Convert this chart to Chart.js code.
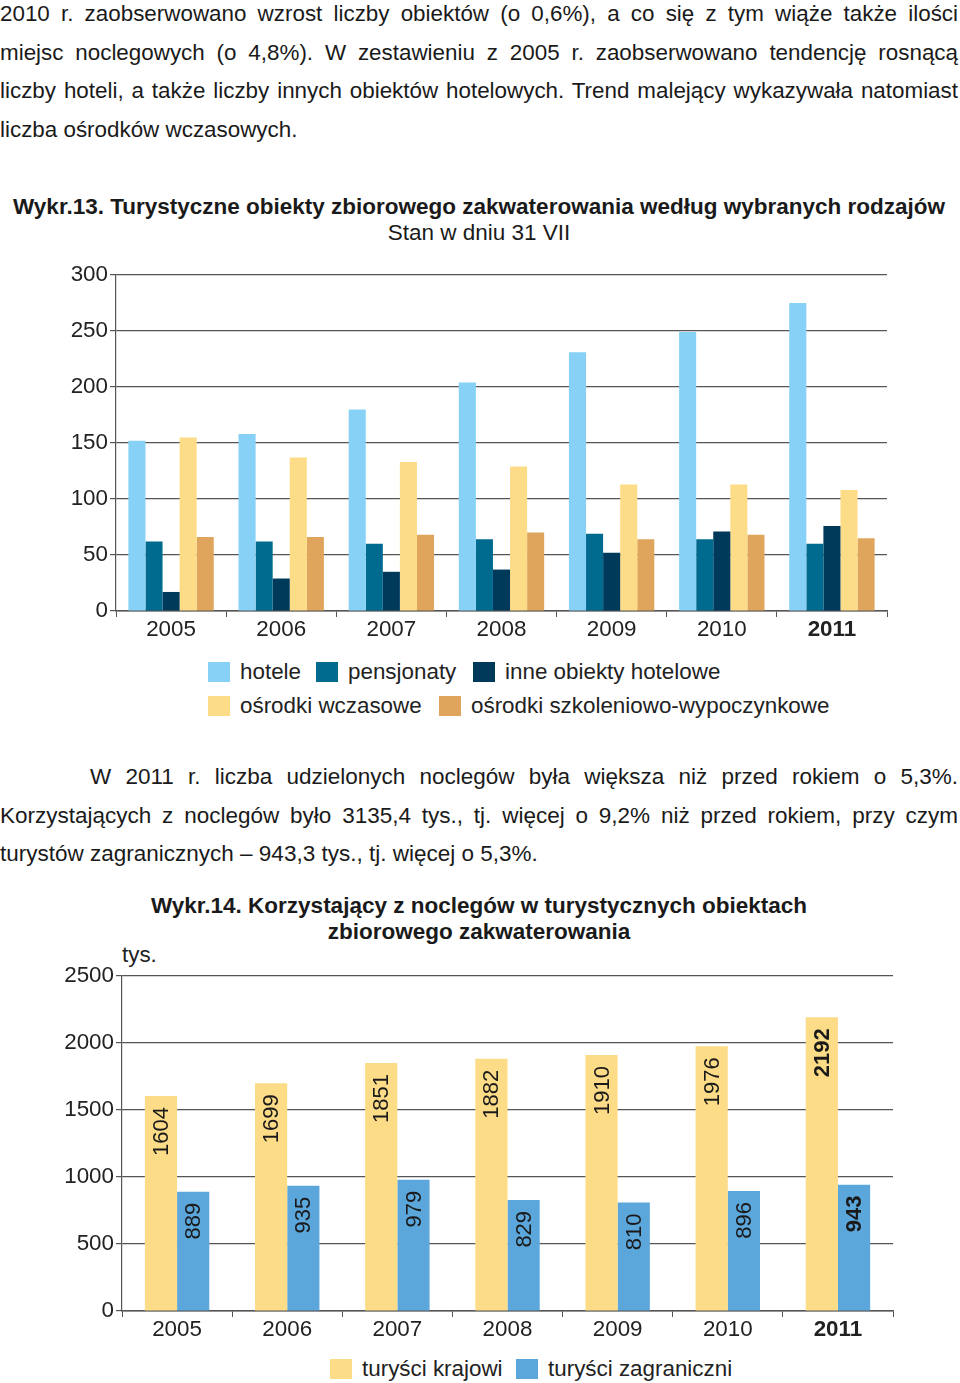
<!DOCTYPE html>
<html lang="pl">
<head>
<meta charset="utf-8">
<script src="https://cdn.jsdelivr.net/npm/chart.js@4"></script>
<style>
  body { margin: 0; background: #fff; font-family: "Liberation Sans", Arial, sans-serif; color: #1a1a1a; }
  .page { position: relative; width: 960px; height: 1383px; overflow: hidden; }
  .abs { position: absolute; }
  .para { left: 0; width: 958px; font-size: 22.4px; line-height: 38.7px; }
  .para div { text-align: justify; text-align-last: justify; white-space: nowrap; }
  .para div.last { text-align-last: left; }
  .para2 { font-size: 22.5px; line-height: 38.5px; text-align: justify; text-indent: 90px; }
  .title { left: 0; width: 958px; text-align: center; font-size: 22.5px; }
  .title2 { font-weight: bold; line-height: 26px; }
  canvas { position: absolute; left: 0; }
  .legend { font-size: 22.4px; color: #222; white-space: nowrap; }
  .legend span.box { display: inline-block; width: 22px; height: 20px; vertical-align: -3px; margin-right: 10px; }
  .legend span.item { position: absolute; }
</style>
</head>
<body>
<div class="page">
  <div class="abs para" style="top:-5px">
    <div>2010 r. zaobserwowano wzrost liczby obiektów (o 0,6%), a co się z tym wiąże także ilości</div>
    <div>miejsc noclegowych (o 4,8%). W zestawieniu z 2005 r. zaobserwowano tendencję rosnącą</div>
    <div>liczby hoteli, a także liczby innych obiektów hotelowych. Trend malejący wykazywała natomiast</div>
    <div class="last">liczba ośrodków wczasowych.</div>
  </div>

  <div class="abs title" style="top:194px;font-weight:bold">Wykr.13. Turystyczne obiekty zbiorowego zakwaterowania według wybranych rodzajów</div>
  <div class="abs title" style="top:220px">Stan w dniu 31 VII</div>

  <canvas id="chart1" width="960" height="390" style="top:255px"></canvas>
  <div id="legend1" class="abs legend" style="top:0;left:0;width:960px"></div>

  <div class="abs para para2" style="top:758px">W 2011 r. liczba udzielonych noclegów była większa niż przed rokiem o 5,3%. Korzystających z noclegów było 3135,4 tys., tj. więcej o 9,2% niż przed rokiem, przy czym turystów zagranicznych – 943,3 tys., tj. więcej o 5,3%.</div>

  <div class="abs title title2" style="top:893px">Wykr.14. Korzystający z noclegów w turystycznych obiektach<br>zbiorowego zakwaterowania</div>
  <div class="abs" style="top:942px;left:122px;font-size:22.4px;color:#222">tys.</div>

  <canvas id="chart2" width="960" height="390" style="top:960px"></canvas>
  <div id="legend2" class="abs legend" style="top:0;left:0;width:960px"></div>
</div>

<script>
// Wykr.13 - obiekty wg rodzajow
const years = ["2005", "2006", "2007", "2008", "2009", "2010", "2011"];
const hotele = [152, 158, 180, 204, 231, 249, 275];
const pensjonaty = [62, 62, 60, 64, 69, 64, 60];
const inneHotelowe = [17, 29, 35, 37, 52, 71, 76];
const osrodkiWczasowe = [155, 137, 133, 129, 113, 113, 108];
const osrodkiSzkoleniowe = [66, 66, 68, 70, 64, 68, 65];
const yTicks1 = [0, 50, 100, 150, 200, 250, 300];

// Wykr.14 - korzystajacy z noclegow (tys.)
const turysciKrajowi = [1604, 1699, 1851, 1882, 1910, 1976, 2192];
const turysciZagraniczni = [889, 935, 979, 829, 810, 896, 943];
const yTicks2 = [0, 500, 1000, 1500, 2000, 2500];

Chart.defaults.font.family = '"Liberation Sans", Arial, sans-serif';
Chart.defaults.color = "#222";

const gridColor = "#555";
const lastBold = (ctx) => ({ size: 22.4, weight: ctx.index === years.length - 1 ? "bold" : "normal" });

function axes(yMax, yTicks, yWidth, xHeight) {
  return {
    x: {
      grid: { offset: true, drawOnChartArea: false, drawTicks: true, tickLength: 6, color: gridColor },
      border: { color: gridColor, width: 1.5 },
      ticks: { font: lastBold, padding: -1, maxRotation: 0 },
      afterFit: (s) => { s.height = xHeight; },
    },
    y: {
      min: 0,
      max: yMax,
      afterBuildTicks: (s) => { s.ticks = yTicks.map((v) => ({ value: v })); },
      grid: { color: gridColor, lineWidth: 1.2, tickLength: 6 },
      border: { color: gridColor, width: 1.2 },
      ticks: { font: { size: 22.4 }, padding: 2, callback: (v) => String(v) },
      afterFit: (s) => { s.width = yWidth; },
    },
  };
}

const sets1 = [
  { label: "hotele", data: hotele, backgroundColor: "#86d1f5" },
  { label: "pensjonaty", data: pensjonaty, backgroundColor: "#006a8f" },
  { label: "inne obiekty hotelowe", data: inneHotelowe, backgroundColor: "#003a5b" },
  { label: "ośrodki wczasowe", data: osrodkiWczasowe, backgroundColor: "#fddc88" },
  { label: "ośrodki szkoleniowo-wypoczynkowe", data: osrodkiSzkoleniowe, backgroundColor: "#dfa55d" },
];

new Chart(document.getElementById("chart1"), {
  type: "bar",
  data: {
    labels: years,
    datasets: sets1.map((d) => ({ ...d, barPercentage: 1, categoryPercentage: 0.775 })),
  },
  options: {
    responsive: false,
    animation: false,
    layout: { padding: { top: 20, right: 73, left: 0, bottom: 0 } },
    plugins: { legend: { display: false }, tooltip: { enabled: false } },
    scales: axes(300, yTicks1, 116, 34),
  },
});

// rotated value labels inside the bars
const barLabels = {
  id: "barLabels",
  afterDatasetsDraw(chart) {
    const ctx = chart.ctx;
    chart.data.datasets.forEach((ds, i) => {
      chart.getDatasetMeta(i).data.forEach((bar, j) => {
        ctx.save();
        ctx.translate(bar.x, bar.y + 11);
        ctx.rotate(-Math.PI / 2);
        ctx.font = (j === years.length - 1 ? "bold " : "") + '22px "Liberation Sans", Arial, sans-serif';
        ctx.fillStyle = "#1a1a1a";
        ctx.textAlign = "right";
        ctx.textBaseline = "middle";
        ctx.fillText(String(ds.data[j]), 0, 1);
        ctx.restore();
      });
    });
  },
};

const sets2 = [
  { label: "turyści krajowi", data: turysciKrajowi, backgroundColor: "#fddc88" },
  { label: "turyści zagraniczni", data: turysciZagraniczni, backgroundColor: "#5ba7db" },
];

new Chart(document.getElementById("chart2"), {
  type: "bar",
  data: {
    labels: years,
    datasets: sets2.map((d) => ({ ...d, barPercentage: 1, categoryPercentage: 0.585 })),
  },
  options: {
    responsive: false,
    animation: false,
    layout: { padding: { top: 16, right: 67, left: 0, bottom: 0 } },
    plugins: { legend: { display: false }, tooltip: { enabled: false } },
    scales: axes(2500, yTicks2, 122, 39),
  },
  plugins: [barLabels],
});

// HTML legends
function legend(el, items) {
  document.getElementById(el).innerHTML = items
    .map((it) => `<span class="item" style="left:${it.x}px;top:${it.y}px"><span class="box" style="background:${it.ds.backgroundColor}"></span>${it.ds.label}</span>`)
    .join("");
}

legend("legend1", [
  { ds: sets1[0], x: 208, y: 659 },
  { ds: sets1[1], x: 316, y: 659 },
  { ds: sets1[2], x: 473, y: 659 },
  { ds: sets1[3], x: 208, y: 693 },
  { ds: sets1[4], x: 439, y: 693 },
]);
legend("legend2", [
  { ds: sets2[0], x: 330, y: 1356 },
  { ds: sets2[1], x: 516, y: 1356 },
]);
</script>
</body>
</html>
